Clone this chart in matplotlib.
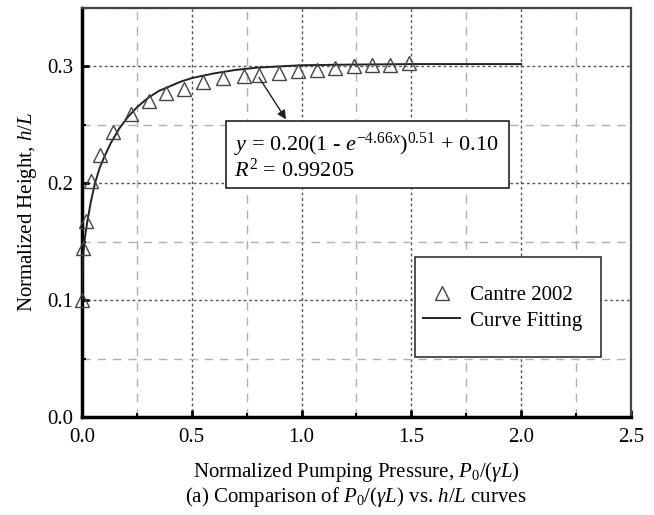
import matplotlib
matplotlib.use("Agg")
import matplotlib.pyplot as plt
from matplotlib.ticker import MultipleLocator, FormatStrFormatter
from matplotlib.patches import Rectangle

plt.rcParams['font.family'] = ['Liberation Serif', 'DejaVu Serif']
plt.rcParams['mathtext.fontset'] = 'custom'
plt.rcParams['mathtext.rm'] = 'Liberation Serif'
plt.rcParams['mathtext.it'] = 'Liberation Serif:italic'

# Cantre 2002 data points
cantre_x = [0.0, 0.005, 0.018, 0.041, 0.082, 0.143, 0.223, 0.306, 0.382, 0.466, 0.551,
            0.640, 0.739, 0.805, 0.898, 0.982, 1.069, 1.152, 1.240, 1.319, 1.402, 1.489]
cantre_y = [0.100, 0.145, 0.168, 0.202, 0.224, 0.244, 0.259, 0.270, 0.277, 0.281, 0.287,
            0.290, 0.2915, 0.293, 0.294, 0.296, 0.297, 0.299, 0.300, 0.301, 0.301, 0.303]

# fitted curve
fit_x = [0.0, 0.001, 0.003, 0.006, 0.012, 0.024, 0.040, 0.059, 0.080, 0.100, 0.130, 0.170,
         0.210, 0.250, 0.300, 0.350, 0.400, 0.450, 0.500, 0.600, 0.700, 0.800, 0.900,
         1.000, 1.200, 1.500, 2.000]
fit_y = [0.100, 0.112, 0.128, 0.140, 0.152, 0.167, 0.184, 0.200, 0.213, 0.222, 0.234, 0.247,
         0.257, 0.265, 0.273, 0.279, 0.283, 0.287, 0.290, 0.294, 0.297, 0.299, 0.300,
         0.301, 0.3015, 0.302, 0.302]

fig = plt.figure(figsize=(6.54, 5.15), dpi=100)
ax = fig.add_axes([0.1254, 0.1903, 0.8394, 0.7942])

ax.plot(fit_x, fit_y, color='#222222', lw=1.4, label='Curve Fitting', zorder=3)
ax.plot(cantre_x, cantre_y, ls='none', marker='^', ms=10, mfc='none', mec='#444444',
        mew=1.0, label='Cantre 2002', zorder=4, clip_on=False)

ax.set_xlim(0, 2.5)
ax.set_ylim(0, 0.35)
ax.xaxis.set_major_locator(MultipleLocator(0.5))
ax.xaxis.set_minor_locator(MultipleLocator(0.25))
ax.yaxis.set_major_locator(MultipleLocator(0.1))
ax.yaxis.set_minor_locator(MultipleLocator(0.05))
ax.xaxis.set_major_formatter(FormatStrFormatter('%.1f'))
ax.yaxis.set_major_formatter(FormatStrFormatter('%.1f'))

ax.grid(which='major', ls=(0, (2, 2)), color='#555555', lw=1.0)
ax.grid(which='minor', ls=(0, (6, 5)), color='#b0b0b0', lw=1.0)
ax.set_axisbelow(True)

ax.tick_params(which='both', direction='in', labelsize=15, color='black')
ax.tick_params(which='major', length=5, width=2)
ax.tick_params(which='minor', length=3, width=1.5)
ax.tick_params(axis='x', pad=8)
ax.tick_params(axis='y', pad=6)

for side in ['left', 'bottom']:
    ax.spines[side].set_linewidth(2.5)
    ax.spines[side].set_color('black')
for side in ['top', 'right']:
    ax.spines[side].set_linewidth(1.6)
    ax.spines[side].set_color('#444444')

ax.set_ylabel(r'Normalized Height, $h$/$L$', fontsize=15, labelpad=6)
ax.set_xlabel(r'Normalized Pumping Pressure, $P_0$/($\gamma L$)', fontsize=15, labelpad=9)
fig.text(356 / 654, 1 - 497 / 515, r'(a) Comparison of $P_0$/($\gamma L$) vs. $h$/$L$ curves',
         fontsize=15, ha='center', va='center')

# equation box
ax.add_patch(Rectangle((0.656, 0.1957), 1.289, 0.0573, fc='white', ec='#222222',
                       lw=1.2, zorder=5))
ax.text(0.692, 0.2325, r'$y$ = 0.20(1 - $e^{-4.66x}$)$^{0.51}$ + 0.10',
        fontsize=16, ha='left', va='center', zorder=6)
ax.text(0.692, 0.2111, r'$R^2$ = 0.99205', fontsize=16, ha='left', va='center', zorder=6)
ax.annotate('', xy=(0.929, 0.2547), xytext=(0.806, 0.2906),
            arrowprops=dict(arrowstyle='-|>', color='#222222', lw=1.0,
                            shrinkA=0, shrinkB=0, mutation_scale=13), zorder=6)

# legend box and entries
ax.add_patch(Rectangle((0.6066, 0.1467), 0.3388, 0.2445, transform=ax.transAxes,
                       fc='white', ec='#333333', lw=1.2, zorder=5))
handles, labels = ax.get_legend_handles_labels()
leg = ax.legend(handles[::-1], labels[::-1], loc='upper left',
                bbox_to_anchor=(0.621, 0.322), fontsize=15, frameon=False,
                borderpad=0, handlelength=1.8, handletextpad=0.47,
                labelspacing=0.3, borderaxespad=0)
leg.set_zorder(6)

plt.savefig('out.png', dpi=100)
